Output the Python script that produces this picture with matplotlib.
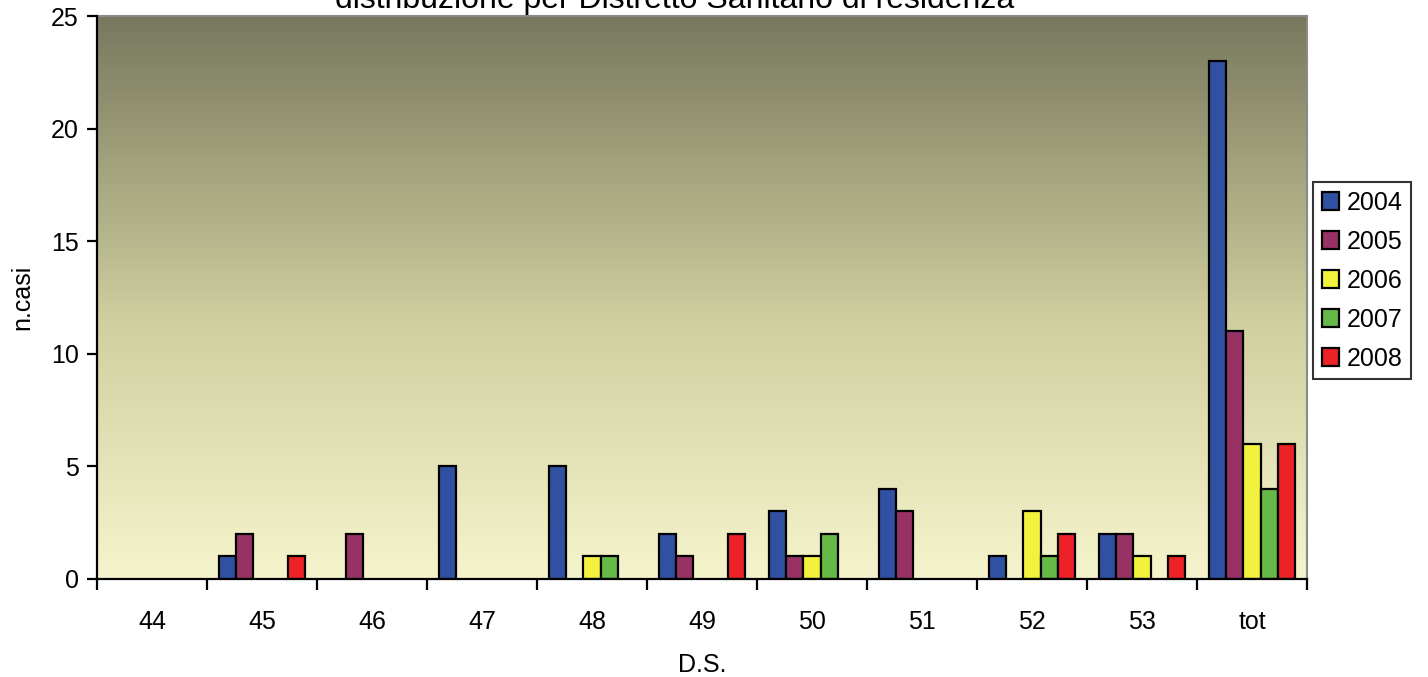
import numpy as np
import matplotlib.pyplot as plt
from matplotlib.colors import LinearSegmentedColormap

plt.rcParams['font.family'] = ['Liberation Sans', 'DejaVu Sans']

categories = ['44', '45', '46', '47', '48', '49', '50', '51', '52', '53', 'tot']
years = ['2004', '2005', '2006', '2007', '2008']
casi_2004 = [0, 1, 0, 5, 5, 2, 3, 4, 1, 2, 23]
casi_2005 = [0, 2, 2, 0, 0, 1, 1, 3, 0, 2, 11]
casi_2006 = [0, 0, 0, 0, 1, 0, 1, 0, 3, 1, 6]
casi_2007 = [0, 0, 0, 0, 1, 0, 2, 0, 1, 0, 4]
casi_2008 = [0, 1, 0, 0, 0, 2, 0, 0, 2, 1, 6]
series = [casi_2004, casi_2005, casi_2006, casi_2007, casi_2008]
colors = ['#3050a2', '#983264', '#f2f23e', '#66b847', '#ec2226']

fig = plt.figure(figsize=(14.28, 6.77), dpi=100)
ax = fig.add_axes([97 / 1428, 1 - 579 / 677, 1210 / 1428, 563 / 677])

# sfondo sfumato: verde oliva in alto, giallo chiaro in basso
grad = LinearSegmentedColormap.from_list(
    'bg', [(0.0, '#f6f4cc'), (0.45, '#d0d0a0'), (1.0, '#78785e')])
ax.imshow(np.linspace(0, 1, 256).reshape(-1, 1), cmap=grad, aspect='auto',
          extent=[0, len(categories), 0, 25], origin='lower', zorder=0)

bw = 0.155
x = np.arange(len(categories)) + 0.5
for i, (vals, col, yr) in enumerate(zip(series, colors, years)):
    vals = np.array(vals)
    pos = x + (i - 2) * bw
    # le barre a zero non si disegnano (niente bordo sull'asse)
    nz = vals > 0
    ax.bar(pos[nz], vals[nz], width=bw, color=col, edgecolor='black',
           linewidth=1.6, label=yr, zorder=2)

ax.set_xlim(0, len(categories))
ax.set_ylim(0, 25)
ax.set_yticks(range(0, 26, 5))
ax.set_xticks(np.arange(len(categories) + 1))
ax.set_xticklabels([])
ax.set_xticks(x, minor=True)
ax.set_xticklabels(categories, minor=True)
ax.tick_params(axis='x', which='minor', length=0, pad=22, labelsize=18)
ax.tick_params(axis='x', which='major', length=8, width=1.6, direction='out')
ax.tick_params(axis='y', length=7, width=1.6, labelsize=18, pad=6)

for s in ['left', 'bottom']:
    ax.spines[s].set_linewidth(1.6)
    ax.spines[s].set_zorder(3)
for s in ['top', 'right']:
    ax.spines[s].set_color('#8a8a8a')
    ax.spines[s].set_linewidth(1.5)

ax.set_ylabel('n.casi', fontsize=18, labelpad=12)
ax.set_xlabel('D.S.', fontsize=18, labelpad=14)

fig.text(675 / 1428, 1 - 8 / 677, 'distribuzione per Distretto Sanitario di residenza',
         fontsize=23, ha='center', va='baseline')

leg = ax.legend(loc='upper left', bbox_to_anchor=(1313 / 1428, 1 - 182 / 677),
                bbox_transform=fig.transFigure, frameon=True, fancybox=False,
                fontsize=18, handlelength=0.7, handleheight=0.7,
                handletextpad=0.3, labelspacing=0.6, borderpad=0.35,
                borderaxespad=0)
leg.get_frame().set_edgecolor('black')
leg.get_frame().set_linewidth(1.5)

fig.savefig('out.png', dpi=100)
